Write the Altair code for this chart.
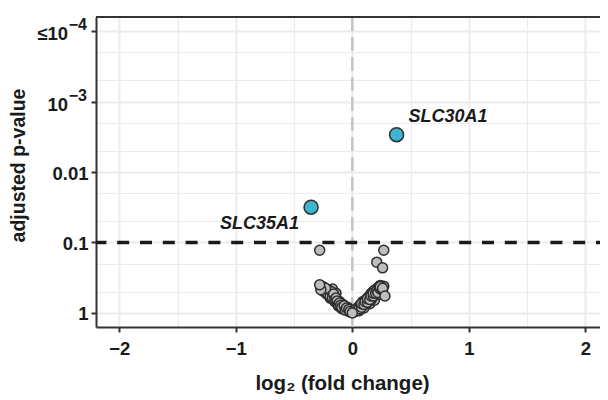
import altair as alt
import pandas as pd

# ---- data ----
# non-significant genes: log2 fold change and -log10(adjusted p)
ns_log2fc = [-0.28, 0.27, 0.21, 0.26,
             -0.22, -0.19, -0.15, -0.12, -0.09, -0.17, -0.14,
             0.10, 0.15, 0.19, 0.22, 0.16, 0.06,
             -0.21, -0.18, -0.16, -0.15, -0.13, -0.11, -0.09, -0.08, -0.06, -0.04, -0.03,
             0.03, 0.04, 0.06, 0.08, 0.09, 0.11, 0.13, 0.15, 0.16, 0.18, 0.20, 0.21,
             -0.26, -0.25, -0.24, -0.23, -0.22, -0.20, -0.20, -0.19, -0.18, -0.17, -0.16,
             -0.15, -0.14, -0.13, -0.12, -0.11, -0.10, -0.10, -0.08, -0.07, -0.05, -0.04,
             -0.02, -0.01,
             0.01, 0.02, 0.05, 0.05, 0.07, 0.07, 0.09, 0.10, 0.12, 0.12, 0.14, 0.14,
             0.17, 0.17, 0.19, 0.19, 0.21, 0.22, 0.23, 0.24, 0.25, 0.27,
             -0.27, -0.25, -0.24, -0.22, -0.21, -0.20, -0.19, -0.18, -0.17, -0.16, -0.15,
             -0.14, -0.13, -0.12, -0.11, -0.10, -0.09, -0.07, -0.06, -0.05, -0.03, -0.02,
             0.02, 0.03, 0.04, 0.06, 0.08, 0.08, 0.10, 0.11, 0.13, 0.13, 0.15,
             0.16, 0.18, 0.18, 0.20, 0.21, 0.22, 0.23, 0.24, 0.25, 0.26,
             -0.23, -0.27, -0.28, 0.24, 0.26, 0.28, 0.00]
ns_neglog10p = [0.89, 0.89, 0.72, 0.64,
                0.27, 0.21, 0.16, 0.10, 0.06, 0.34, 0.28,
                0.07, 0.13, 0.18, 0.26, 0.18, 0.03,
                0.31, 0.28, 0.24, 0.21, 0.18, 0.16, 0.11, 0.09, 0.06, 0.04, 0.02,
                0.03, 0.06, 0.09, 0.11, 0.16, 0.18, 0.21, 0.24, 0.27, 0.30, 0.33, 0.34,
                0.38, 0.31, 0.36, 0.30, 0.33, 0.29, 0.25, 0.27, 0.23, 0.25, 0.20,
                0.23, 0.18, 0.14, 0.16, 0.12, 0.09, 0.14, 0.12, 0.07, 0.05, 0.08,
                0.03, 0.01,
                0.01, 0.04, 0.05, 0.08, 0.07, 0.12, 0.10, 0.15, 0.13, 0.19, 0.17, 0.23,
                0.22, 0.29, 0.26, 0.32, 0.30, 0.36, 0.33, 0.39, 0.31, 0.38,
                0.36, 0.34, 0.32, 0.29, 0.27, 0.32, 0.24, 0.30, 0.21, 0.27, 0.19,
                0.21, 0.17, 0.12, 0.14, 0.11, 0.08, 0.10, 0.04, 0.07, 0.05, 0.02,
                0.02, 0.05, 0.03, 0.06, 0.08, 0.13, 0.12, 0.16, 0.15, 0.20, 0.19,
                0.24, 0.24, 0.28, 0.28, 0.32, 0.29, 0.36, 0.34, 0.37, 0.33,
                0.35, 0.33, 0.40, 0.37, 0.35, 0.24, 0.00]

sig_genes = ["SLC30A1", "SLC35A1"]
sig_log2fc = [0.38, -0.354]
sig_neglog10p = [2.53, 1.50]

threshold_neglog10p = [1.0]   # adjusted p = 0.1
zero_line = [0.0]

x_tick_values = [-2, -1.5, -1, -0.5, 0, 0.5, 1, 1.5, 2]
x_major = [-2, -1, 0, 1, 2]
x_major_labels = ["\u22122", "\u22121", "0", "1", "2"]

y_tick_values = [0, 0.30103, 0.69897, 1, 1.30103, 1.69897, 2, 2.30103, 2.69897,
                 3, 3.30103, 3.69897, 4]
y_plain = [0, 1, 2]
y_plain_labels = ["1", "0.1", "0.01"]
y_power = [3, 4]
y_power_base = ["10", "\u226410"]
y_power_exp = ["\u22123", "\u22124"]

# ---- layout / style ----
PX_PER_UNIT = 116.5
X_MIN = -2.2
W, H = 512, 310
X_MAX = X_MIN + W / PX_PER_UNIT
FONT = "Liberation Sans"
INK = "#1a1a1a"
BORDER = "#333333"
GRID = "#ebebeb"
TICK_FS = 18.5


def label_expr(vals, labels):
    parts = []
    for v, l in zip(vals, labels):
        parts.append(f"datum.value == {v} ? '{l}' : ")
    return "".join(parts) + "''"


major_test = "abs(datum.value - round(datum.value)) < 1e-6"

x_scale = alt.Scale(domain=[X_MIN, X_MAX], nice=False, zero=False)
y_scale = alt.Scale(domain=[-0.2, 4.2], nice=False, zero=False)

x_axis = alt.Axis(
    values=x_tick_values,
    labelExpr=label_expr(x_major, x_major_labels),
    title="log\u2082 (fold change)",
    titleFont=FONT, titleFontSize=20.5, titleFontWeight="bold", titleColor=INK,
    titleX=246, titleY=62, titleBaseline="alphabetic", titleAnchor="middle", titleAlign="center",
    labelFont=FONT, labelFontSize=TICK_FS, labelFontWeight="bold", labelColor=INK,
    labelPadding=7,
    tickSize=5, tickWidth=2, tickColor=BORDER,
    tickOpacity={"condition": {"test": major_test, "value": 1}, "value": 0},
    domainColor=BORDER, domainWidth=2,
    grid=True, gridColor=GRID,
    gridWidth={"condition": {"test": major_test, "value": 2}, "value": 1.2},
    labelFlush=False, labelOverlap=False,
)

y_axis = alt.Axis(
    values=y_tick_values,
    labelExpr=label_expr(y_plain, y_plain_labels),
    title="adjusted p-value",
    titleFont=FONT, titleFontSize=19.5, titleFontWeight="bold", titleColor=INK,
    titleX=-68, titleY=148, titleAnchor="middle", titleAlign="center",
    titleBaseline="bottom", titleAngle=270,
    labelFont=FONT, labelFontSize=TICK_FS, labelFontWeight="bold", labelColor=INK,
    labelPadding=3, labelBaseline="middle", labelOffset=1,
    tickSize=5, tickWidth=2, tickColor=BORDER,
    tickOpacity={"condition": {"test": major_test, "value": 1}, "value": 0},
    domainColor=BORDER, domainWidth=2,
    grid=True, gridColor=GRID,
    gridWidth={"condition": {"test": major_test, "value": 2}, "value": 1.2},
    labelFlush=False, labelOverlap=False,
)

X = alt.X("log2fc:Q", scale=x_scale, axis=x_axis)
Y = alt.Y("nlp:Q", scale=y_scale, axis=y_axis)

ns_df = pd.DataFrame({"log2fc": ns_log2fc, "nlp": ns_neglog10p})
sig_df = pd.DataFrame({"gene": sig_genes, "log2fc": sig_log2fc, "nlp": sig_neglog10p})
thr_df = pd.DataFrame({"nlp": threshold_neglog10p})
zero_df = pd.DataFrame({"log2fc": zero_line})
pow_df = pd.DataFrame({"nlp": y_power, "base": y_power_base, "exp": y_power_exp})

ns_layer = alt.Chart(ns_df).mark_point(
    shape="circle", filled=True, size=100, fill="#bebebe", stroke="#2e2e2e",
    strokeWidth=1.5, opacity=1
).encode(x=X, y=Y)

zero_layer = alt.Chart(zero_df).mark_rule(
    color="#c4c4c4", strokeWidth=2.5, strokeDash=[14, 6]
).encode(x=X)

thr_layer = alt.Chart(thr_df).mark_rule(
    color=INK, strokeWidth=3.5, strokeDash=[12, 10.8]
).encode(y=Y)

sig_layer = alt.Chart(sig_df).mark_point(
    shape="circle", filled=True, size=195, fill="#3db5d0", stroke=BORDER,
    strokeWidth=1.6, opacity=1
).encode(x=X, y=Y)

lab_right = alt.Chart(sig_df).transform_filter("datum.log2fc > 0").mark_text(
    font=FONT, fontSize=18, fontWeight="bold", fontStyle="italic", color=INK,
    align="left", baseline="alphabetic", dx=12, dy=-13
).encode(x=X, y=Y, text="gene:N")

lab_left = alt.Chart(sig_df).transform_filter("datum.log2fc < 0").mark_text(
    font=FONT, fontSize=18, fontWeight="bold", fontStyle="italic", color=INK,
    align="right", baseline="alphabetic", dx=-12, dy=22
).encode(x=X, y=Y, text="gene:N")

pow_base = alt.Chart(pow_df).mark_text(
    font=FONT, fontSize=TICK_FS, fontWeight="bold", color=INK,
    align="right", baseline="middle", dy=3
).encode(x=alt.value(-28), y=Y, text="base:N")

pow_exp = alt.Chart(pow_df).mark_text(
    font=FONT, fontSize=16, fontWeight="bold", color=INK,
    align="right", baseline="middle", dy=-6
).encode(x=alt.value(-9), y=Y, text="exp:N")

top_border = alt.Chart(thr_df).mark_rule(color=BORDER, strokeWidth=2).encode(
    x=alt.value(0), x2=alt.value(W), y=alt.value(0)
)

chart = alt.layer(
    zero_layer, ns_layer, thr_layer, sig_layer, lab_right, lab_left,
    pow_base, pow_exp, top_border
).properties(
    width=W, height=H,
    autosize=alt.AutoSizeParams(type="none"),
    padding={"left": 88, "top": 9, "right": -8, "bottom": 70},
    background="white",
).configure_view(stroke=None)

chart.save("out.html", embed_options={"renderer": "svg", "actions": False})
